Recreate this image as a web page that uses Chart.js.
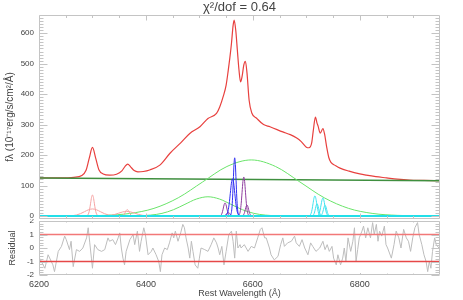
<!DOCTYPE html>
<html><head><meta charset="utf-8">
<script src="https://cdn.jsdelivr.net/npm/chart.js@4.4.1/dist/chart.umd.min.js"></script>
<style>
html,body{margin:0;padding:0;background:#fff;width:463px;height:300px;overflow:hidden}
#top{position:absolute;left:0;top:0}
#bot{position:absolute;left:0;top:219px}
</style></head><body>
<canvas id="top" width="463" height="221"></canvas>
<canvas id="bot" width="463" height="81"></canvas>
<script>
// ---------------- data ----------------
const titleText = 'χ²/dof = 0.64';
const xTickValues = [6200, 6400, 6600, 6800];
const yTickValuesTop = [0, 100, 200, 300, 400, 500, 600];
const yTickValuesRes = [-2, -1, 0, 1, 2];

// total model (red)
const modelTotal = [[6200,125],[6240,125],[6265,127],[6280,133],[6288,150],[6294,190],[6300,225],[6306,190],[6312,152],[6320,138],[6332,134],[6345,137],[6355,148],[6361,163],[6366,170],[6371,162],[6378,149],[6385,145],[6395,146],[6407,151],[6426,167],[6445,206],[6465,240],[6482,271],[6501,293],[6516,320],[6532,337],[6538,358],[6545,395],[6550,430],[6554,479],[6557,520],[6560,567],[6563,625],[6565,643],[6568,610],[6571,544],[6574,480],[6577,440],[6580,460],[6583,495],[6586,508],[6589,470],[6593,380],[6598,338],[6607,321],[6620,300],[6632,293],[6656,276],[6670,267],[6682,256],[6690,245],[6700,226],[6705,224],[6710,240],[6713,280],[6717,325],[6720,305],[6722,295],[6726,272],[6731,287],[6734,270],[6738,227],[6742,192],[6746,176],[6755,165],[6763,157],[6780,147],[6800,138],[6812,134],[6830,129],[6850,125],[6870,121],[6893,118],[6920,117],[6950,116]];

// power-law continuum (dark green)
const continuum = [[6200,125],[6950,116]];

// broad Halpha components (light green)
const broadHa1 = [[6200,0],[6233,0.06],[6278.5,0.4],[6324,2.0],[6369.5,8.1],[6415,24.9],[6460.5,59.7],[6506,111.6],[6551.5,162.4],[6597,184],[6642.5,162.4],[6688,111.6],[6733.5,59.7],[6779,24.9],[6824.5,8.1],[6870,2.0],[6915.5,0.4],[6961,0.06]];
const broadHa2 = [[6200,0],[6344,0.02],[6365.5,0.14],[6387,0.7],[6408.5,2.8],[6430,8.5],[6451.5,20.5],[6473,38.2],[6494.5,55.6],[6516,63],[6537.5,55.6],[6559,38.2],[6580.5,20.5],[6602,8.5],[6623.5,2.8],[6645,0.7],[6666.5,0.14],[6688,0.02],[6950,0]];

// [OI] components (pink)
const oi6300n = [[6287.75,0.2],[6289.5,0.8],[6291.25,3.0],[6293,9.3],[6294.75,22.4],[6296.5,41.8],[6298.25,60.9],[6300,69],[6301.75,60.9],[6303.5,41.8],[6305.25,22.4],[6307,9.3],[6308.75,3.0],[6310.5,0.8],[6312.25,0.2]];
const oi6300b = [[6247.5,0.05],[6255,0.26],[6262.5,1.0],[6270,3.1],[6277.5,7.5],[6285,13.9],[6292.5,20.3],[6300,23],[6307.5,20.3],[6315,13.9],[6322.5,7.5],[6330,3.1],[6337.5,1.0],[6345,0.26],[6352.5,0.05]];
const oi6363n = [[6352.75,0.05],[6354.5,0.23],[6356.25,0.9],[6358,2.8],[6359.75,6.8],[6361.5,12.7],[6363.25,18.5],[6365,21],[6366.75,18.5],[6368.5,12.7],[6370.25,6.8],[6372,2.8],[6373.75,0.9],[6375.5,0.23],[6377.25,0.05]];
const oi6363b = [[6311.5,0.03],[6319,0.17],[6326.5,0.66],[6334,2.0],[6341.5,4.9],[6349,9.1],[6356.5,13.2],[6364,15],[6371.5,13.2],[6379,9.1],[6386.5,4.9],[6394,2.0],[6401.5,0.66],[6409,0.17],[6416.5,0.03]];

// narrow Halpha components (blue)
const haNarrow1 = [[6556.9,0.4],[6558.2,2.1],[6559.5,8.4],[6560.8,25.8],[6562.1,62.0],[6563.4,115.8],[6564.7,168.6],[6566,191],[6567.3,168.6],[6568.6,115.8],[6569.9,62.0],[6571.2,25.8],[6572.5,8.4],[6573.8,2.1],[6575.1,0.4]];
const haNarrow2 = [[6547.3,0.3],[6549.4,1.4],[6551.5,5.4],[6553.6,16.5],[6555.7,39.6],[6557.8,74.0],[6559.9,107.7],[6562,122],[6564.1,107.7],[6566.2,74.0],[6568.3,39.6],[6570.4,16.5],[6572.5,5.4],[6574.6,1.4],[6576.7,0.3]];

// [NII] components (purple)
const nii6583a = [[6571.8,0.3],[6573.4,1.4],[6575,5.6],[6576.6,17.3],[6578.2,41.6],[6579.8,77.6],[6581.4,113.0],[6583,128],[6584.6,113.0],[6586.2,77.6],[6587.8,41.6],[6589.4,17.3],[6591,5.6],[6592.6,1.4],[6594.2,0.3]];
const nii6583b = [[6578.5,0.08],[6580,0.4],[6581.5,1.6],[6583,4.9],[6584.5,11.7],[6586,21.8],[6587.5,31.8],[6589,36],[6590.5,31.8],[6592,21.8],[6593.5,11.7],[6595,4.9],[6596.5,1.6],[6598,0.4],[6599.5,0.08]];
const nii6548a = [[6536.8,0.1],[6538.4,0.5],[6540,1.9],[6541.6,5.8],[6543.2,14.0],[6544.8,26.1],[6546.4,37.9],[6548,43],[6549.6,37.9],[6551.2,26.1],[6552.8,14.0],[6554.4,5.8],[6556,1.9],[6557.6,0.5],[6559.2,0.1]];
const nii6548b = [[6543.5,0.03],[6545,0.13],[6546.5,0.5],[6548,1.6],[6549.5,3.9],[6551,7.3],[6552.5,10.6],[6554,12],[6555.5,10.6],[6557,7.3],[6558.5,3.9],[6560,1.6],[6561.5,0.5],[6563,0.13],[6564.5,0.03]];

// [SII] components (cyan)
const sii6716a = [[6703.75,0.15],[6705.5,0.7],[6707.25,2.9],[6709,8.9],[6710.75,21.4],[6712.5,40.0],[6714.25,58.2],[6716,66],[6717.75,58.2],[6719.5,40.0],[6721.25,21.4],[6723,8.9],[6724.75,2.9],[6726.5,0.7],[6728.25,0.15]];
const sii6731a = [[6718.75,0.13],[6720.5,0.65],[6722.25,2.6],[6724,8.0],[6725.75,19.2],[6727.5,35.8],[6729.25,52.1],[6731,59],[6732.75,52.1],[6734.5,35.8],[6736.25,19.2],[6738,8.0],[6739.75,2.6],[6741.5,0.65],[6743.25,0.13]];
const sii6716b = [[6709.5,0.09],[6711,0.44],[6712.5,1.8],[6714,5.4],[6715.5,13.0],[6717,24.3],[6718.5,35.3],[6720,40],[6721.5,35.3],[6723,24.3],[6724.5,13.0],[6726,5.4],[6727.5,1.8],[6729,0.44],[6730.5,0.09]];
const sii6731b = [[6724.5,0.08],[6726,0.39],[6727.5,1.5],[6729,4.7],[6730.5,11.4],[6732,21.2],[6733.5,30.9],[6735,35],[6736.5,30.9],[6738,21.2],[6739.5,11.4],[6741,4.7],[6742.5,1.5],[6744,0.39],[6745.5,0.08]];

const zeroLevel = [[6200,0],[6950,0]];

// residuals
const residual = [[6201,-0.75],[6211,-1.5],[6217,-0.5],[6226,-1.25],[6229,-1.75],[6236,-0.25],[6242,0.12],[6248,0.88],[6251,0.62],[6257,-0.12],[6260,0.5],[6264,-1.38],[6270,-0.12],[6276,-0.25],[6282,0],[6289,0.75],[6292,1.5],[6295,0.38],[6298,-0.75],[6300,-1.5],[6304,0.25],[6310,-0.12],[6317,-0.25],[6323,-0.12],[6329,0.75],[6332,0.5],[6338,0.62],[6343,0.25],[6348,0.75],[6351,1.12],[6354,0],[6357,-0.75],[6360,-1.25],[6363,-0.25],[6370,0.62],[6376,1.0],[6379,0.25],[6384,1.25],[6388,-0.25],[6391,0.5],[6396,1.5],[6399,1.0],[6404,-0.5],[6410,-0.25],[6413,0],[6419,-0.5],[6424,-1.0],[6427,-1.75],[6430,-0.5],[6435,0],[6440,-0.12],[6444,0.38],[6449,1.12],[6452,0.75],[6455,1.25],[6460,0.5],[6465,1.12],[6469,1.75],[6472,1.5],[6475,0.75],[6479,0],[6482,-0.75],[6485,0.5],[6488,-0.25],[6492,-1.25],[6497,-1.5],[6500,-0.75],[6503,0],[6510,-0.12],[6516,-0.25],[6522,0.25],[6527,0.75],[6532,0.38],[6535,0],[6538,-0.5],[6542,0.12],[6546,-1.25],[6550,-0.25],[6555,1.0],[6560,1.25],[6563,0.5],[6566,-0.75],[6569,1.25],[6572,0],[6576,0.25],[6578,0],[6584,0.25],[6591,-0.25],[6597,0.12],[6603,0],[6609,0.75],[6614,1.38],[6617,1.5],[6622,0.75],[6625,0.75],[6631,0],[6634,-0.5],[6640,-0.88],[6647,-0.62],[6652,0.25],[6656,0.75],[6659,0.12],[6665,0.38],[6672,0.5],[6678,0.88],[6681,0.38],[6687,0.12],[6692,0.62],[6697,0],[6703,-0.5],[6708,0.38],[6712,0.12],[6718,-0.25],[6725,0],[6731,0.5],[6735,-0.12],[6739,0.25],[6743,-0.25],[6748,0.12],[6751,-0.75],[6756,-1.25],[6759,-0.5],[6764,-1.25],[6768,-0.75],[6771,0],[6774,-1.0],[6778,0.75],[6783,-0.25],[6787,0.5],[6790,1.5],[6793,-1.0],[6796,-0.12],[6799,0.75],[6804,1.25],[6807,1.62],[6811,0.75],[6815,1.5],[6820,0.75],[6824,1.88],[6827,1.0],[6831,1.75],[6834,0.5],[6837,1.25],[6841,0.88],[6846,1.62],[6849,0.25],[6852,0],[6859,-0.75],[6864,0.25],[6868,1.25],[6873,0.75],[6877,0],[6882,1.38],[6887,0.75],[6891,0.5],[6895,-0.25],[6899,0.75],[6903,1.5],[6908,1.88],[6911,1.0],[6916,0.25],[6920,-0.5],[6924,-1.0],[6927,-1.75],[6930,-1.0],[6933,-1.5],[6936,-0.25],[6940,0.75],[6943,0.25],[6948,0],[6950,0.12]];
const sigmaPlus = [[6200,1],[6950,1]];
const sigmaMinus = [[6200,-1],[6950,-1]];

// ---------------- chart setup ----------------
const FONT = "'Liberation Sans', Arial, Helvetica, sans-serif";
Chart.defaults.font.family = FONT;
Chart.defaults.color = '#444';
const X_MIN = 6200, X_MAX = 6950;
const xy = arr => arr.map(p => ({x: p[0], y: p[1]}));
function range(a, b, s){ const r=[]; for(let v=a; v<=b+1e-9; v+=s) r.push(+v.toFixed(4)); return r; }
const plain = v => String(v);

function line(data, color, width, mode){
  return {data: xy(data), borderColor: color, borderWidth: width, pointRadius: 0,
    showLine: true, fill: false,
    cubicInterpolationMode: mode === 'smooth' ? 'monotone' : 'default', tension: 0};
}
function ordered(list){ const n=list.length; list.forEach((d,i)=>{ d.order = n - i; }); return list; }

function frameTicks(o){
  return { id:'frameTicks', afterDatasetsDraw(chart){
    const {ctx, chartArea:a, scales} = chart; const xs = scales.x, ys = scales.y;
    ctx.save(); ctx.strokeStyle = '#c4c4c4'; ctx.lineWidth = 1;
    const L=Math.round(a.left)+0.5, R=Math.round(a.right)-0.5, T=Math.round(a.top)+0.5, B=Math.round(a.bottom)-0.5;
    ctx.beginPath(); ctx.rect(L,T,R-L,B-T); ctx.stroke();
    ctx.beginPath();
    const tx=(v,len)=>{const p=Math.round(xs.getPixelForValue(v))+0.5; ctx.moveTo(p,T); ctx.lineTo(p,T+len); ctx.moveTo(p,B); ctx.lineTo(p,B-len);};
    const ty=(v,len)=>{const p=Math.round(ys.getPixelForValue(v))+0.5; ctx.moveTo(L,p); ctx.lineTo(L+len,p); ctx.moveTo(R,p); ctx.lineTo(R-len,p);};
    o.xMinor.forEach(v=>tx(v,o.xMinLen)); o.xMajor.forEach(v=>tx(v,o.xMajLen));
    o.yMinor.forEach(v=>ty(v,o.yMinLen)); o.yMajor.forEach(v=>ty(v,o.yMajLen));
    ctx.stroke(); ctx.restore();
  }};
}
const fixY = s => { s.width = 39; s.paddingTop = 0; s.paddingBottom = 0; };
const fixX = s => { s.height = 25; s.paddingLeft = 0; s.paddingRight = 0; };

const PINK='#f5a3a3', BLUE='#2f2ff2', PURP='#8f3f9f', CYAN='#3fe3ef', LGREEN='#6ae46a';

const topDatasets = ordered([
  line(modelTotal, '#e8403e', 1.2, 'smooth'),
  line(continuum, '#3f8f3f', 1.5),
  line(broadHa1, LGREEN, 1, 'smooth'),
  line(broadHa2, LGREEN, 1, 'smooth'),
  line(oi6300b, PINK, 1, 'smooth'),
  line(oi6363b, PINK, 1, 'smooth'),
  line(oi6300n, PINK, 1, 'smooth'),
  line(oi6363n, PINK, 1, 'smooth'),
  line(nii6548a, PURP, 1, 'smooth'),
  line(nii6548b, PURP, 1, 'smooth'),
  line(nii6583a, PURP, 1, 'smooth'),
  line(nii6583b, PURP, 1, 'smooth'),
  line(haNarrow2, BLUE, 1, 'smooth'),
  line(haNarrow1, BLUE, 1, 'smooth'),
  line(sii6716a, CYAN, 1, 'smooth'),
  line(sii6731a, CYAN, 1, 'smooth'),
  line(sii6716b, CYAN, 1, 'smooth'),
  line(sii6731b, CYAN, 1, 'smooth'),
  line(zeroLevel, '#22dfe9', 2)
]);

new Chart(document.getElementById('top'), {
  type: 'scatter',
  data: { datasets: topDatasets },
  options: {
    responsive: false, animation: false, devicePixelRatio: 1,
    layout: { padding: { left: 0, right: 23, top: 0.3, bottom: 2 } },
    plugins: { legend: {display:false}, tooltip: {enabled:false},
      title: { display: true, text: titleText, fullSize: false, color: '#444',
        font: { size: 13, weight: 'normal', lineHeight: 1.13 }, padding: {top:0, bottom:0} } },
    scales: {
      x: { type:'linear', min: X_MIN, max: X_MAX, display: false },
      y: { type:'linear', min: -10, max: 660,
        afterFit: fixY,
        afterBuildTicks: s => { s.ticks = yTickValuesTop.map(v => ({value: v})); },
        grid: { display:false, drawTicks:false }, border: { display:false },
        ticks: { font: {size: 8}, color:'#444', padding: 5, callback: plain },
        title: { display: true, text: 'fλ (10⁻¹⁷erg/s/cm²/Å)', color:'#444',
          font: {size: 10}, padding: {top: 4, bottom: 0} } }
    }
  },
  plugins: [frameTicks({xMajor: xTickValues, xMinor: range(6250, 6900, 50), xMajLen: 5, xMinLen: 2.5,
    yMajor: yTickValuesTop, yMinor: range(0, 650, 10), yMajLen: 8, yMinLen: 4})]
});

const botDatasets = ordered([
  line(residual, '#bdbdbd', 1),
  line(sigmaPlus, '#f27878', 1.6),
  line(sigmaMinus, '#e64848', 1.6)
]);

new Chart(document.getElementById('bot'), {
  type: 'scatter',
  data: { datasets: botDatasets },
  options: {
    responsive: false, animation: false, devicePixelRatio: 1,
    layout: { padding: { left: 0, right: 23, top: 2, bottom: 0 } },
    plugins: { legend: {display:false}, tooltip: {enabled:false} },
    scales: {
      x: { type:'linear', min: X_MIN, max: X_MAX,
        afterFit: fixX,
        afterBuildTicks: s => { s.ticks = xTickValues.map(v => ({value: v})); },
        grid: { display:false, drawTicks:false }, border: { display:false },
        ticks: { font: {size: 9}, color:'#444', padding: 4, maxRotation: 0, autoSkip: false, callback: plain },
        title: { display: true, text: 'Rest Wavelength (Å)', color:'#444', font: {size: 9}, padding: {top:0, bottom:1} } },
      y: { type:'linear', min: -2, max: 2,
        afterFit: fixY,
        afterBuildTicks: s => { s.ticks = yTickValuesRes.map(v => ({value: v})); },
        grid: { display:false, drawTicks:false }, border: { display:false },
        ticks: { font: {size: 8}, color:'#444', padding: 5, callback: plain },
        title: { display: true, text: 'Residual', color:'#444', font: {size: 9}, padding: {top: 7, bottom: 0} } }
    }
  },
  plugins: [frameTicks({xMajor: xTickValues, xMinor: range(6250, 6900, 50), xMajLen: 1.5, xMinLen: 1,
    yMajor: yTickValuesRes, yMinor: range(-1.8, 1.8, 0.2), yMajLen: 8, yMinLen: 4})]
});
</script>
</body></html>
